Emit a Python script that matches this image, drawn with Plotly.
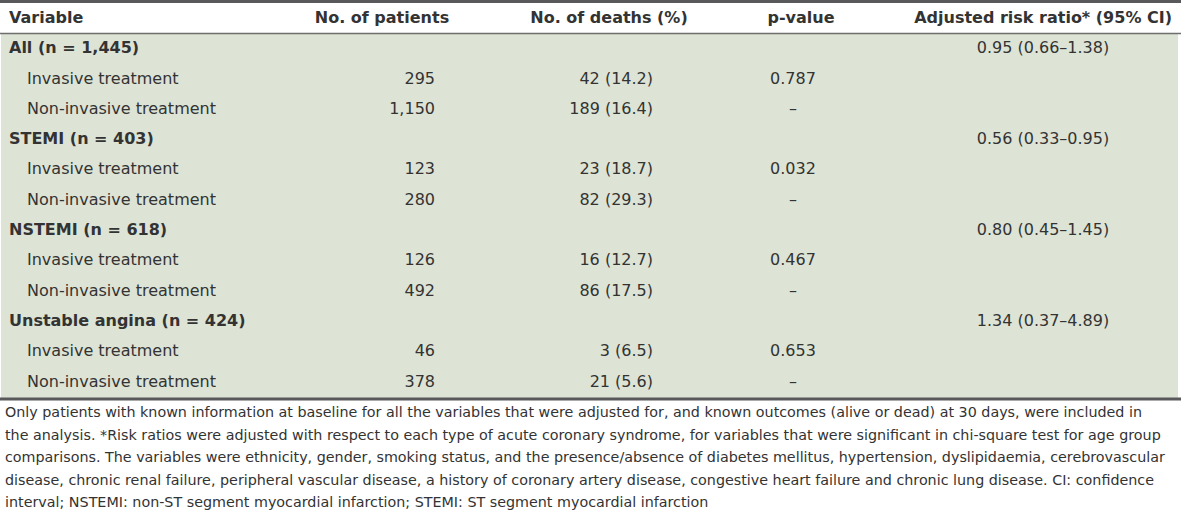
import plotly.graph_objects as go

# ---------------- data ----------------
columns = ["Variable", "No. of patients", "No. of deaths (%)", "p-value",
           "Adjusted risk ratio* (95% CI)"]

row_labels = [
    "All (n = 1,445)", "Invasive treatment", "Non-invasive treatment",
    "STEMI (n = 403)", "Invasive treatment", "Non-invasive treatment",
    "NSTEMI (n = 618)", "Invasive treatment", "Non-invasive treatment",
    "Unstable angina (n = 424)", "Invasive treatment", "Non-invasive treatment",
]
is_group = [True, False, False, True, False, False, True, False, False, True, False, False]

patients = ["", "295", "1,150", "", "123", "280", "", "126", "492", "", "46", "378"]
deaths = ["", "42 (14.2)", "189 (16.4)", "", "23 (18.7)", "82 (29.3)",
          "", "16 (12.7)", "86 (17.5)", "", "3 (6.5)", "21 (5.6)"]
p_values = ["", "0.787", "–", "", "0.032", "–", "", "0.467", "–", "", "0.653", "–"]
risk_ratio = ["0.95 (0.66–1.38)", "", "", "0.56 (0.33–0.95)", "", "",
              "0.80 (0.45–1.45)", "", "", "1.34 (0.37–4.89)", "", ""]

footnote_lines = [
    "Only patients with known information at baseline for all the variables that were adjusted for, and known outcomes (alive or dead) at 30 days, were included in",
    "the analysis. *Risk ratios were adjusted with respect to each type of acute coronary syndrome, for variables that were significant in chi-square test for age group",
    "comparisons. The variables were ethnicity, gender, smoking status, and the presence/absence of diabetes mellitus, hypertension, dyslipidaemia, cerebrovascular",
    "disease, chronic renal failure, peripheral vascular disease, a history of coronary artery disease, congestive heart failure and chronic lung disease. CI: confidence",
    "interval; NSTEMI: non-ST segment myocardial infarction; STEMI: ST segment myocardial infarction",
]

# ---------------- layout constants ----------------
W, H = 1181, 510
ROW_H = 30.33
BODY_TOP = 34.0
TEXT = "#333333"
GREEN = "#dde3d5"
RULE = "#59595b"
FONT = "DejaVu Sans"


def u(px):
    """pixel row (from top) -> y-axis units (row index)"""
    return (px - BODY_TOP) / ROW_H - 0.5


n = len(row_labels)
rows = list(range(n))

fig = go.Figure()

# body background (one bar per row)
fig.add_trace(go.Bar(
    orientation="h", y=rows, x=[1177] * n, base=1, width=1.0,
    marker=dict(color=GREEN, line=dict(width=0)),
    hoverinfo="skip", showlegend=False,
))


def text_trace(xs, ys, texts, pos, size=16):
    fig.add_trace(go.Scatter(
        x=xs, y=ys, text=texts, mode="text", textposition=pos,
        textfont=dict(family=FONT, size=size, color=TEXT),
        hoverinfo="skip", showlegend=False, cliponaxis=False,
    ))


# header
hy = u(18.5)
text_trace([9], [hy], ["<b>" + columns[0] + "</b>"], "middle right")
text_trace([382, 609, 801], [hy] * 3, ["<b>" + c + "</b>" for c in columns[1:4]], "middle center")
text_trace([1172], [hy], ["<b>" + columns[4] + "</b>"], "middle left")

# variable column
lab_x = [9 if g else 27 for g in is_group]
lab_t = ["<b>" + t + "</b>" if g else t for t, g in zip(row_labels, is_group)]
text_trace(lab_x, rows, lab_t, "middle right")

# numbers
text_trace([435] * n, rows, patients, "middle left")
text_trace([653] * n, rows, deaths, "middle left")
text_trace([793] * n, rows, p_values, "middle center")
text_trace([1043] * n, rows, risk_ratio, "middle center")

# footnote
fn_y = [u(413.5 + 22.6 * i) for i in range(len(footnote_lines))]
text_trace([5] * len(footnote_lines), fn_y, footnote_lines, "middle right", size=14.3)

# rules
shapes = [
    dict(type="line", xref="x", yref="y", x0=0, x1=W, y0=u(1.5), y1=u(1.5),
         line=dict(color=RULE, width=3)),
    dict(type="line", xref="x", yref="y", x0=0, x1=W, y0=u(33.5), y1=u(33.5),
         line=dict(color="#6e6e6e", width=1.5)),
    dict(type="line", xref="x", yref="y", x0=0, x1=W, y0=u(399), y1=u(399),
         line=dict(color=RULE, width=3)),
]

fig.update_layout(
    width=W, height=H,
    margin=dict(l=0, r=0, t=0, b=0),
    paper_bgcolor="white", plot_bgcolor="white",
    xaxis=dict(range=[0, W], visible=False, fixedrange=True),
    yaxis=dict(range=[u(H), u(0)], visible=False, fixedrange=True),
    shapes=shapes,
    bargap=0,
)

fig.write_html(
    "out.html",
    config={"displayModeBar": False, "staticPlot": True},
    post_script="document.body.style.margin='0';document.body.style.overflow='hidden';",
)
